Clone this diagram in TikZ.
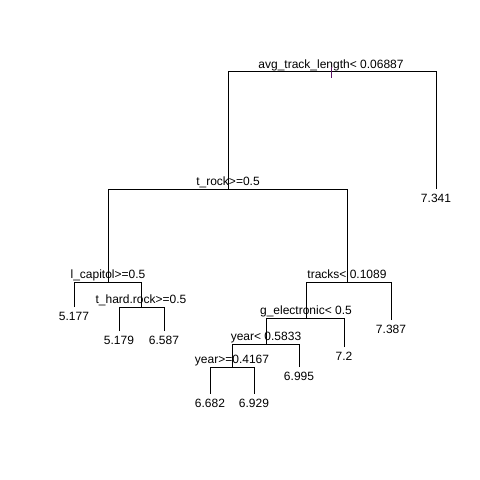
\documentclass[tikz,border=0pt]{standalone}
\usepackage{fontspec}
\setmainfont{Liberation Sans}
\definecolor{tickcol}{RGB}{90,20,100}
\begin{document}
\begin{tikzpicture}[x=1bp,y=-1bp,
  edge/.style={draw=black,line width=1bp},
  lbl/.style={anchor=base,inner sep=0pt,font=\fontsize{12bp}{14bp}\selectfont},
  leaf/.style={anchor=base,inner sep=0pt,font=\fontsize{12bp}{14bp}\selectfont}]
\useasboundingbox (0,0) rectangle (480,480);
% split points
\coordinate (root) at (331,71.5);
\coordinate (trock) at (228,189);
\coordinate (c7341) at (436,189);
\coordinate (lcap) at (108,282);
\coordinate (tracks) at (347,282);
\coordinate (c5177) at (74,307);
\coordinate (thard) at (141,307);
\coordinate (c5179) at (119,331);
\coordinate (c6587) at (164,331);
\coordinate (c7387) at (391,320);
\coordinate (gel) at (306,318);
\coordinate (c72) at (344,347);
\coordinate (yr1) at (266,344);
\coordinate (c6995) at (299,367);
\coordinate (yr2) at (232,367);
\coordinate (c6682) at (210,393.5);
\coordinate (c6929) at (254,393.5);
% connectors
\draw[edge] (trock) |- (root);
\draw[edge] (c7341) |- (root);
\draw[edge] (lcap) |- (trock);
\draw[edge] (tracks) |- (trock);
\draw[edge] (c5177) |- (lcap);
\draw[edge] (thard) |- (lcap);
\draw[edge] (c5179) |- (thard);
\draw[edge] (c6587) |- (thard);
\draw[edge] (gel) |- (tracks);
\draw[edge] (c7387) |- (tracks);
\draw[edge] (yr1) |- (gel);
\draw[edge] (c72) |- (gel);
\draw[edge] (yr2) |- (yr1);
\draw[edge] (c6995) |- (yr1);
\draw[edge] (c6682) |- (yr2);
\draw[edge] (c6929) |- (yr2);
% split labels
\node[lbl] (Lroot) at ([yshift=3.5]root) {avg\_track\_length< 0.06887};
\node[lbl] (Ltrock) at ([yshift=3.5]trock) {t\_rock>=0.5};
\node[lbl] (Llcap) at ([yshift=3.5]lcap) {l\_capitol>=0.5};
\node[lbl] (Lthard) at ([yshift=3.5]thard) {t\_hard.rock>=0.5};
\node[lbl] (Ltracks) at ([yshift=3.5]tracks) {tracks< 0.1089};
\node[lbl] (Lgel) at ([yshift=3.5]gel) {g\_electronic< 0.5};
\node[lbl] (Lyr1) at ([yshift=3.5]yr1) {year< 0.5833};
\node[lbl] (Lyr2) at ([yshift=3.5]yr2) {year>=0.4167};
\draw[tickcol,line width=1bp] (331,67) -- (331,78);
% leaf labels
\node[leaf] (n7341) at ([yshift=-14]c7341) {7.341};
\node[leaf] (n5177) at ([yshift=-14]c5177) {5.177};
\node[leaf] (n5179) at ([yshift=-14]c5179) {5.179};
\node[leaf] (n6587) at ([yshift=-14]c6587) {6.587};
\node[leaf] (n7387) at ([yshift=-14]c7387) {7.387};
\node[leaf] (n72) at ([yshift=-14]c72) {7.2};
\node[leaf] (n6995) at ([yshift=-14]c6995) {6.995};
\node[leaf] (n6682) at ([yshift=-14]c6682) {6.682};
\node[leaf] (n6929) at ([yshift=-14]c6929) {6.929};
\end{tikzpicture}
\end{document}
